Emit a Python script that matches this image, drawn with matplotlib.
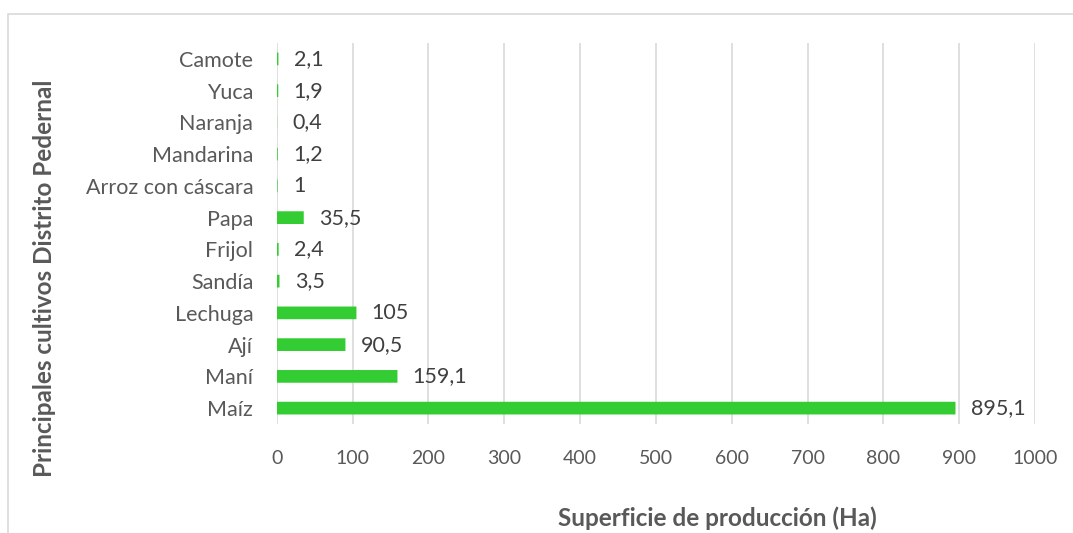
import matplotlib.pyplot as plt
from matplotlib.patches import Rectangle

# Superficie de producción por cultivo (Ha), bottom to top
cultivos = ["Maíz", "Maní", "Ají", "Lechuga", "Sandía", "Frijol", "Papa",
            "Arroz con cáscara", "Mandarina", "Naranja", "Yuca", "Camote"]
superficie = [895.1, 159.1, 90.5, 105, 3.5, 2.4, 35.5, 1, 1.2, 0.4, 1.9, 2.1]
etiquetas = ["895,1", "159,1", "90,5", "105", "3,5", "2,4", "35,5", "1", "1,2", "0,4", "1,9", "2,1"]
xticks = list(range(0, 1001, 100))

plt.rcParams['font.family'] = ['Lato', 'DejaVu Sans']
gris = '#595959'

fig = plt.figure(figsize=(10.73, 5.33), dpi=100)
ax = fig.add_axes([0.258, 0.2045, 0.7066, 0.7148])

# outer chart frame
fig.patches.append(Rectangle((8 / 1073, -0.1), 1.1, 1 - 14 / 533 + 0.1, transform=fig.transFigure,
                             fill=False, edgecolor='#d9d9d9', linewidth=1.2))

y = range(len(cultivos))
ax.barh(y, superficie, height=0.4, color='#33cc33', linewidth=0, snap=False, zorder=3)

for i, (v, t) in enumerate(zip(superficie, etiquetas)):
    ax.annotate(t, (v, i), xytext=(11, 0), textcoords='offset points', va='center', ha='left',
                fontsize=15.5, color='#404040')

ax.set_xlim(0, 1000)
ax.set_ylim(-0.5, len(cultivos) - 0.5)
ax.set_xticks(xticks)
ax.set_yticks(list(y))
ax.set_yticklabels(cultivos)
ax.tick_params(axis='x', length=0, labelsize=14, labelcolor=gris, pad=19)
ax.tick_params(axis='y', length=0, labelsize=15.5, labelcolor=gris, pad=17)
ax.grid(axis='x', color='#d9d9d9', linewidth=1.2, zorder=0)
for s in ax.spines.values():
    s.set_visible(False)

fig.text(717 / 1073, 1 - 518 / 533, "Superficie de producción (Ha)", ha='center', va='center',
         fontsize=17.5, fontweight='bold', color=gris)
fig.text(45 / 1073, 1 - 278 / 533, "Principales cultivos Distrito Pedernal", ha='center', va='center',
         rotation=90, fontsize=17.5, fontweight='bold', color=gris)

fig.savefig('out.png', dpi=100)
